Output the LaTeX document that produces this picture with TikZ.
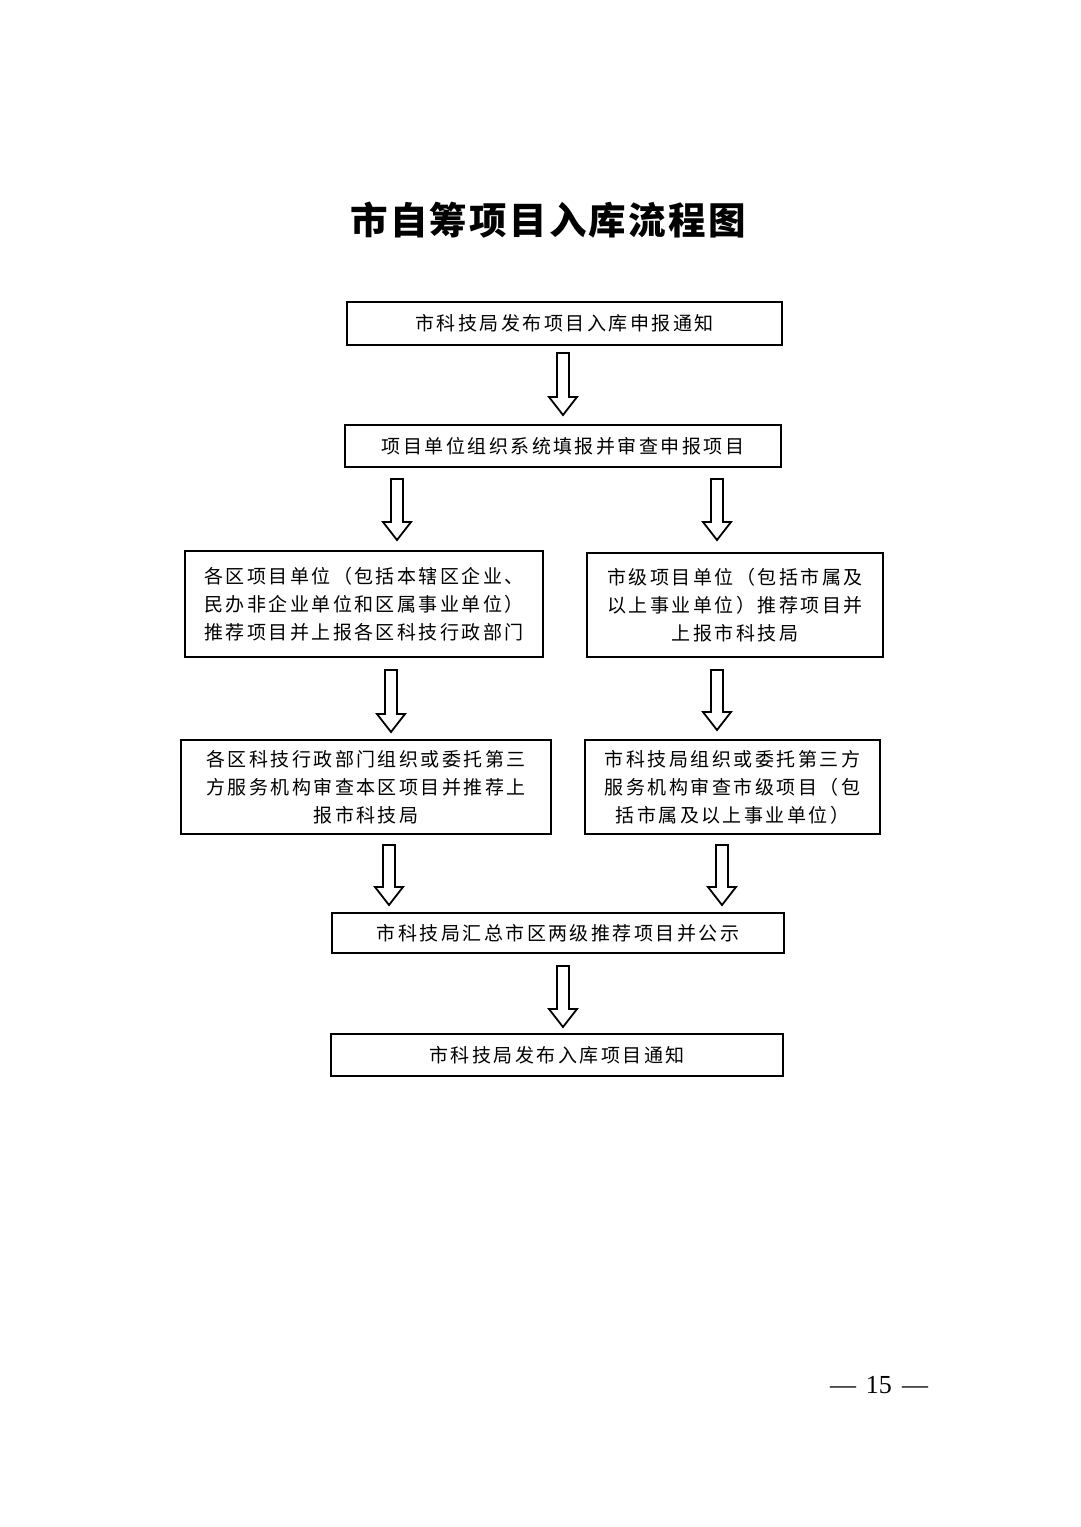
\documentclass[tikz,border=0pt]{standalone}
\usepackage{fontspec}
\newfontfamily\cjk[LetterSpace=13]{Noto Sans CJK SC}
\newfontfamily\cjkt[LetterSpace=6]{Noto Sans CJK SC}
\newfontfamily\pgnum{Liberation Serif}
\newcommand\blockarr[3]{%
  \draw[arrline] (#1-6,#2) -- (#1+6,#2) -- (#1+6,#3-18) -- (#1+14,#3-18) -- (#1,#3)
    -- (#1-14,#3-18) -- (#1-6,#3-18) -- cycle;}
\tikzset{
  box/.style={draw=black, line width=2pt, fill=white, inner sep=0pt, align=center,
    font=\cjk\fontsize{19}{28}\selectfont},
  arrline/.style={draw=black, line width=1.8pt, fill=white, line join=miter},
}
\begin{document}
\begin{tikzpicture}[x=1pt,y=-1pt]
\path[use as bounding box, fill=white] (0,0) rectangle (1080,1527);

\node[font=\cjkt\bfseries\fontsize{37.5}{40}\selectfont] (title) at (548,220) {市自筹项目入库流程图};

\node[box, minimum width=435, minimum height=43] (b1) at (564.5,323.5) {市科技局发布项目入库申报通知};
\node[box, minimum width=436, minimum height=42] (b2) at (563,446) {项目单位组织系统填报并审查申报项目};

\node[box, minimum width=358, minimum height=106] (l1) at (364,604) {各区项目单位（包括本辖区企业、\\民办非企业单位和区属事业单位）\\推荐项目并上报各区科技行政部门};
\node[box, minimum width=296, minimum height=104] (r1) at (735,605) {市级项目单位（包括市属及\\以上事业单位）推荐项目并\\上报市科技局};

\node[box, minimum width=370, minimum height=94] (l2) at (366,787) {各区科技行政部门组织或委托第三\\方服务机构审查本区项目并推荐上\\报市科技局};
\node[box, minimum width=295, minimum height=94] (r2) at (732.5,787) {市科技局组织或委托第三方\\服务机构审查市级项目（包\\括市属及以上事业单位）};

\node[box, minimum width=452, minimum height=40] (b5) at (558,933) {市科技局汇总市区两级推荐项目并公示};
\node[box, minimum width=452, minimum height=42] (b6) at (557,1055) {市科技局发布入库项目通知};

\blockarr{563}{353}{415}
\blockarr{397}{479}{540}
\blockarr{717}{479}{540}
\blockarr{391}{670}{732}
\blockarr{717}{670}{730}
\blockarr{389}{845}{905}
\blockarr{722}{845}{905}
\blockarr{563}{966}{1027}

\node[font=\pgnum\fontsize{26}{30}\selectfont] (pg) at (879,1385) {—\hspace{10pt}15\hspace{10pt}—};
\end{tikzpicture}
\end{document}
